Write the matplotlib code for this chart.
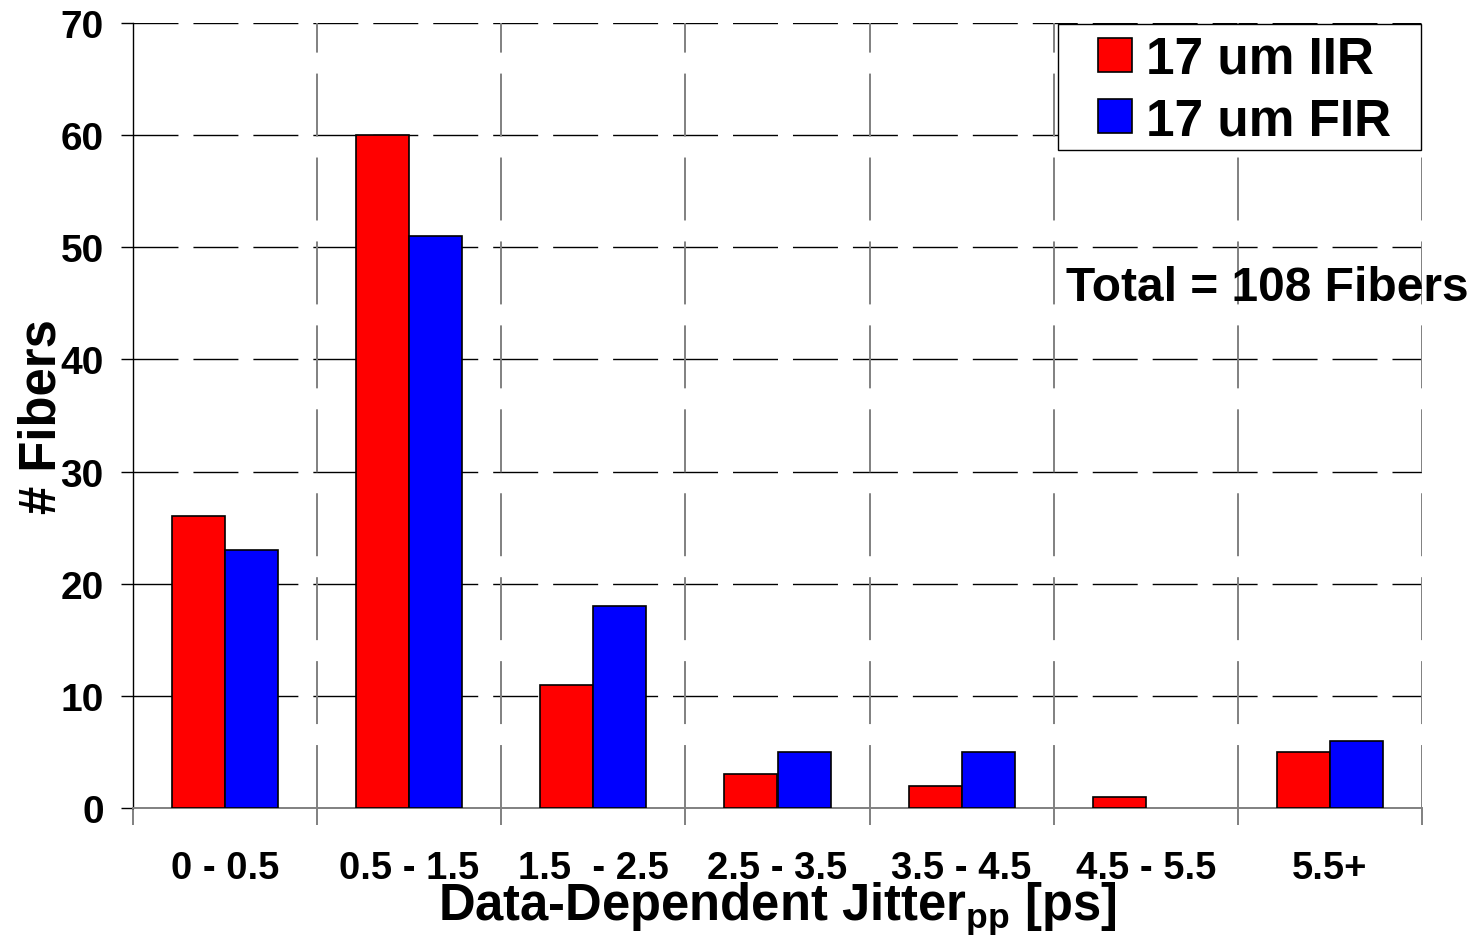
import numpy as np
import matplotlib.pyplot as plt
from matplotlib.patches import Rectangle

# data
categories = ['0 - 0.5', '0.5 - 1.5', '1.5  - 2.5', '2.5 - 3.5', '3.5 - 4.5', '4.5 - 5.5', '5.5+']
iir = [26, 60, 11, 3, 2, 1, 5]
fir = [23, 51, 18, 5, 5, 0, 6]

plt.rcParams['font.family'] = 'Liberation Sans'
plt.rcParams['font.weight'] = 'bold'
plt.rcParams['mathtext.fontset'] = 'custom'
plt.rcParams['mathtext.rm'] = 'Liberation Sans:bold'
plt.rcParams['mathtext.it'] = 'Liberation Sans:bold'
plt.rcParams['mathtext.bf'] = 'Liberation Sans:bold'

fig = plt.figure(figsize=(14.79, 9.37), dpi=100)
ax = fig.add_axes([133/1479, 1 - 809/937, (1422-133)/1479, (809-24)/937])

x = np.arange(len(categories))
w = 0.288
# no outline on empty bars
lw_iir = [1.2 if v > 0 else 0 for v in iir]
lw_fir = [1.2 if v > 0 else 0 for v in fir]
ax.bar(x - w/2, iir, w, color='#ff0000', edgecolor='black', linewidth=lw_iir, label='17 um IIR', zorder=3)
ax.bar(x + w/2, fir, w, color='#0000ff', edgecolor='black', linewidth=lw_fir, label='17 um FIR', zorder=3)

ax.set_xlim(-0.5, len(categories) - 0.5)
ax.set_ylim(0, 70)

# grid
for yv in range(10, 71, 10):
    ax.axhline(yv, color='black', lw=1, dashes=(45/1.39, 15/1.39), zorder=1)
for xv in np.arange(0.5, len(categories), 1):
    ax.axvline(xv, color='#808080', lw=1.4, dashes=(45/1.39, 15/1.39), zorder=1)

# spines
for s in ['top', 'right']:
    ax.spines[s].set_visible(False)
ax.spines['left'].set_color('black')
ax.spines['left'].set_linewidth(1)
ax.spines['bottom'].set_color('#808080')
ax.spines['bottom'].set_linewidth(1.4)

# ticks
ax.set_yticks(range(0, 71, 10))
ax.tick_params(axis='y', length=9, width=1, color='black', labelsize=28, pad=12)
ax.set_xticks(np.arange(-0.5, len(categories), 1))
ax.set_xticklabels([])
ax.tick_params(axis='x', which='major', length=12, width=1.4, color='#808080')
ax.set_xticks(x, minor=True)
ax.set_xticklabels(categories, minor=True)
ax.tick_params(axis='x', which='minor', length=0, labelsize=27.5, pad=30)

ax.set_xlabel(r'Data-Dependent Jitter$_{\mathrm{pp}}$ [ps]', fontsize=36.5, fontweight='bold')
ax.xaxis.set_label_coords(0.5, (809 - 920) / 785)
ax.xaxis.label.set_va('baseline')
ax.set_ylabel('# Fibers', fontsize=36.5, fontweight='bold')
ax.yaxis.set_label_coords((42 - 133) / 1289, 0.5)
ax.yaxis.label.set_va('center')

# legend box
box = Rectangle(((1058 - 133) / 1289, (809 - 151) / 785), (1421 - 1058) / 1289, (151 - 25) / 785,
                transform=ax.transAxes, facecolor='white', edgecolor='black', lw=1, zorder=4,
                clip_on=False)
ax.add_patch(box)
leg = ax.legend(loc='upper left', bbox_to_anchor=((1098 - 133) / 1289, 1 - (36 - 24) / 785),
                fontsize=37, frameon=False, handlelength=0.66, handleheight=0.64,
                handletextpad=0.27, borderpad=0, labelspacing=0.24, borderaxespad=0)
for h in leg.legend_handles:
    h.set_linewidth(1.2)
leg.set_zorder(5)

ax.text(4.565, 45.3, 'Total = 108 Fibers', fontsize=34.5, fontweight='bold', va='baseline', ha='left', zorder=6)

fig.savefig('out.png', dpi=100)
